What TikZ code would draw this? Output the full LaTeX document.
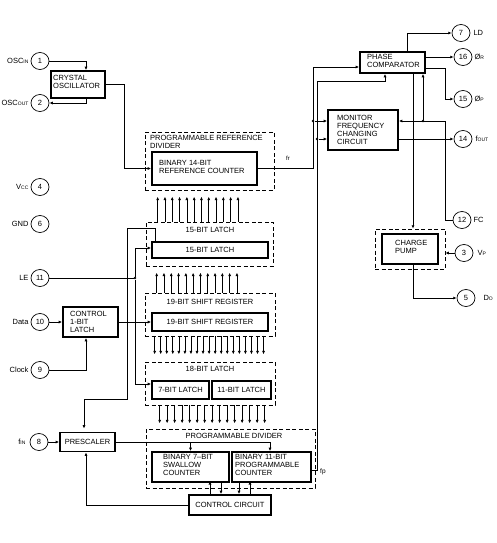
\documentclass[tikz,border=0pt]{standalone}
\usepackage{fontspec}
\setmainfont{Liberation Sans}
\usetikzlibrary{arrows.meta,shapes.geometric,calc}
\newcommand\sml[1]{{\fontsize{5}{5}\selectfont #1}}
\begin{document}
\begin{tikzpicture}[x=1pt,y=-1pt,
  every node/.style={font=\fontsize{7.5}{8}\selectfont, inner sep=0pt},
  ln/.style={line width=0.7pt},
  arr/.style={ln,-{Latex[length=3.4pt,width=3pt]}},
  blk/.style={draw,line width=1.8pt},
  dbx/.style={draw,line width=0.7pt,dash pattern=on 4pt off 2.5pt},
  pin/.style={draw,ellipse,line width=0.7pt,minimum width=18pt,minimum height=17pt},
  txt/.style={align=left,anchor=west},
  dot/.style={circle,fill,minimum size=2.6pt,inner sep=0pt}
]
\useasboundingbox (0,0) rectangle (496,543);

% ---------- dashed enclosures ----------
\node[dbx,minimum width=129pt,minimum height=58pt] (rdd) at (209.5,161) {};
\node[dbx,minimum width=127pt,minimum height=44pt] (l15d) at (209.5,244) {};
\node[dbx,minimum width=130pt,minimum height=43pt] (srd) at (210,314.5) {};
\node[dbx,minimum width=130pt,minimum height=43pt] (l18d) at (210,383.5) {};
\node[dbx,minimum width=169pt,minimum height=59pt] (pdd) at (230.5,458.5) {};
\node[dbx,minimum width=70pt,minimum height=40pt] (cpd) at (410,249) {};

\node[txt,anchor=north west] (rdt) at (150,135.5) {PROGRAMMABLE REFERENCE\\DIVIDER};
\node (l15dt) at (210,230) {15-BIT LATCH};
\node (srdt) at (210,302) {19-BIT SHIFT REGISTER};
\node (l18dt) at (210,369) {18-BIT LATCH};
\node (pddt) at (234,436) {PROGRAMMABLE DIVIDER};

% ---------- solid blocks ----------
\node[blk,minimum width=54pt,minimum height=27pt] (crys) at (78,84.5) {};
\node[txt] (crys-t) at (53,82) {CRYSTAL\\OSCILLATOR};
\node[blk,minimum width=65pt,minimum height=21pt] (pc) at (392.5,62.5) {};
\node[txt] (pc-t) at (367,60.5) {PHASE\\COMPARATOR};
\node[blk,minimum width=70pt,minimum height=40pt] (mon) at (363,130) {};
\node[txt] (mon-t) at (337,130) {MONITOR\\FREQUENCY\\CHANGING\\CIRCUIT};
\node[blk,minimum width=105pt,minimum height=33pt] (c14) at (204.5,168.5) {};
\node[txt] (c14-t) at (159,167) {BINARY 14-BIT\\REFERENCE COUNTER};
\node[blk,minimum width=116pt,minimum height=16pt] (l15) at (210,250) {15-BIT LATCH};
\node[blk,minimum width=116pt,minimum height=18pt] (sr) at (210,322) {19-BIT SHIFT REGISTER};
\node[blk,minimum width=55pt,minimum height=30pt] (cl) at (90.5,322) {};
\node[txt] (cl-t) at (70,322) {CONTROL\\1-BIT\\LATCH};
\node[blk,minimum width=57pt,minimum height=18pt] (l7) at (180.5,390) {7-BIT LATCH};
\node[blk,minimum width=59pt,minimum height=18pt] (l11) at (241.5,390) {11-BIT LATCH};
\node[blk,minimum width=77pt,minimum height=30pt] (sw) at (190.5,467) {};
\node[txt] (sw-t) at (163,465) {BINARY 7--BIT\\SWALLOW\\COUNTER};
\node[blk,minimum width=79pt,minimum height=30pt] (pc11) at (271.5,467) {};
\node[txt] (pc11-t) at (235,465) {BINARY 11-BIT\\PROGRAMMABLE\\COUNTER};
\node[blk,minimum width=55pt,minimum height=19pt] (pre) at (87.5,442) {PRESCALER};
\node[blk,minimum width=82pt,minimum height=20pt] (cc) at (230,505) {CONTROL CIRCUIT};
\node[blk,minimum width=56pt,minimum height=30pt] (cp) at (410,249) {};
\node[txt] (cp-t) at (395,247) {CHARGE\\PUMP};

% ---------- pins ----------
\node[pin] (p1) at (40,61) {1};
\node[pin] (p2) at (40,103) {2};
\node[pin] (p4) at (40,187) {4};
\node[pin] (p6) at (40,224) {6};
\node[pin] (p11) at (40,278) {11};
\node[pin] (p10) at (40,322) {10};
\node[pin] (p9) at (40,370) {9};
\node[pin] (p8) at (39,442) {8};
\node[pin] (p7) at (461,33) {7};
\node[pin] (p16) at (463,57) {16};
\node[pin] (p15) at (463,99) {15};
\node[pin] (p14) at (463,139) {14};
\node[pin] (p12) at (462,220) {12};
\node[pin] (p3) at (464,253) {3};
\node[pin] (p5) at (466,298) {5};

\node[anchor=east] (l1) at ($(p1.west)+(-2,0)$) {OSC\sml{IN}};
\node[anchor=east] (l2) at ($(p2.west)+(-2,0)$) {OSC\sml{OUT}};
\node[anchor=east] (l4) at ($(p4.west)+(-2,0)$) {V\sml{CC}};
\node[anchor=east] (l6) at ($(p6.west)+(-2,0)$) {GND};
\node[anchor=east] (l11l) at ($(p11.west)+(-2,0)$) {LE};
\node[anchor=east] (l10) at ($(p10.west)+(-2,0)$) {Data};
\node[anchor=east] (l9) at ($(p9.west)+(-2,0)$) {Clock};
\node[anchor=east] (l8) at ($(p8.west)+(-4,0)$) {f\sml{IN}};
\node[anchor=west] (l7r) at ($(p7.east)+(3,0)$) {LD};
\node[anchor=west] (l16) at ($(p16.east)+(2,0)$) {Ø\sml{R}};
\node[anchor=west] (l15r) at ($(p15.east)+(2,0)$) {Ø\sml{P}};
\node[anchor=west] (l14) at ($(p14.east)+(3,0)$) {f\sml{OUT}};
\node[anchor=west] (l12) at ($(p12.east)+(2,0)$) {FC};
\node[anchor=west] (l3) at ($(p3.east)+(4,0)$) {V\sml{P}};
\node[anchor=west] (l5) at ($(p5.east)+(8,0)$) {D\sml{O}};

% ---------- oscillator ----------
\draw[arr] (p1.east) -| ($(crys.north)+(8,0)$);
\draw[arr] ($(crys.south)+(8,0)$) |- (p2.east);
\draw[arr] (crys.east) -- (124,84.5) |- (c14.west);

% ---------- fr / fp to phase comparator & monitor ----------
\draw[arr] (c14.east) -- (313,168.5) |- ($(pc.west)+(0,4.5)$);
\node[anchor=west] (frl) at (286,158) {{\fontsize{6}{6}\selectfont fr}};
\node[dot] (d1) at (313,121) {};
\draw[arr] (d1) -- (mon.west |- d1);
\draw[arr] ($(pc11.east)+(0,3)$) -- (317,470) -- (317,81) -| ($(pc.south)+(-7.5,0)$);
\node[anchor=west] (fpl) at (320,472) {{\fontsize{6.5}{6.5}\selectfont fp}};
\node[dot] (d2) at (317,139) {};
\draw[arr] (d2) -- (mon.west |- d2);

% ---------- phase comparator outputs ----------
\draw[arr] ($(pc.north)+(14.5,0)$) |- (p7.west);
\draw[arr] (pc.east |- p16.west) -- (p16.west);
\draw[arr] ($(pc.east)+(0,5.5)$) -- (445,68) |- (p15.west);

% ---------- monitor ----------
\draw[arr] (p12.west) -- (445,220) |- ($(mon.east)+(0,-9)$);
\node[dot] (d3) at (423,121) {};
\draw[arr] (d3) -- (d3 |- pc.south);
\draw[arr] (mon.east |- p14.west) -- (p14.west);

% ---------- charge pump ----------
\coordinate (cpx) at (413,0);
\draw[arr] (cpx |- pc.south) -- (cpx |- cpd.north);
\draw[arr] (cpx |- cp.south) |- (p5.west);
\draw[arr] (p3.west) -- (cpd.east |- p3.west);

% ---------- LE ----------
\node[dot] (d4) at (135,278) {};
\draw[ln] (p11.east) -- (d4);
\draw[arr] (d4) |- ($(l15.west)+(0,-2)$);
\draw[arr] (d4) |- ($(l7.west)+(0,-6)$);

% ---------- SW line to prescaler ----------
\draw[arr] ($(l15.north west)+(4,0)$) |- (127,228) -- (127,399) -| ($(pre.north)+(-3.5,-3)$);

% ---------- control latch ----------
\draw[arr] (p10.east) -- (cl.west |- p10.east);
\draw[arr] (p9.east) -| ($(cl.south)+(-4.5,0)$);
\draw[arr] (cl.east) -- (sr.west |- cl.east);

% ---------- prescaler and counters ----------
\draw[arr] (p8.east) -- (pre.west |- p8.east);
\draw[arr] (pre.east) -| ($(pc11.north)+(-1.5,0)$);
\draw[arr] (sw.north |- pre.east) -- (sw.north);
\draw[arr] ($(cc.north)+(-20,0)$) -- ($(cc.north)+(-20,-13)$);
\draw[arr] ($(cc.north)+(-9,-13)$) -- ($(cc.north)+(-9,0)$);
\draw[arr] ($(cc.north)+(9,-13)$) -- ($(cc.north)+(9,0)$);
\draw[arr] ($(cc.north)+(20,0)$) -- ($(cc.north)+(20,-13)$);
\draw[arr] (cc.west) -| ($(pre.south)+(-1.5,0)$);

% ---------- parallel bus arrows ----------
\foreach \i in {0,...,11} {
  \draw[arr] ($(l15d.north west)+(12+\i*7.3,0)$) -- ++(0,-25);
  \draw[arr] ($(srd.north west)+(12+\i*7.3,0)$) -- ++(0,-20);
}
\foreach \i in {0,...,18} {
  \draw[arr] ($(srd.south west)+(10+\i*6.05,0)$) -- ++(0,18);
}
\foreach \i in {0,...,14} {
  \draw[arr] ($(l18d.south west)+(15+\i*7.5,0)$) -- ++(0,18);
}
\end{tikzpicture}
\end{document}
